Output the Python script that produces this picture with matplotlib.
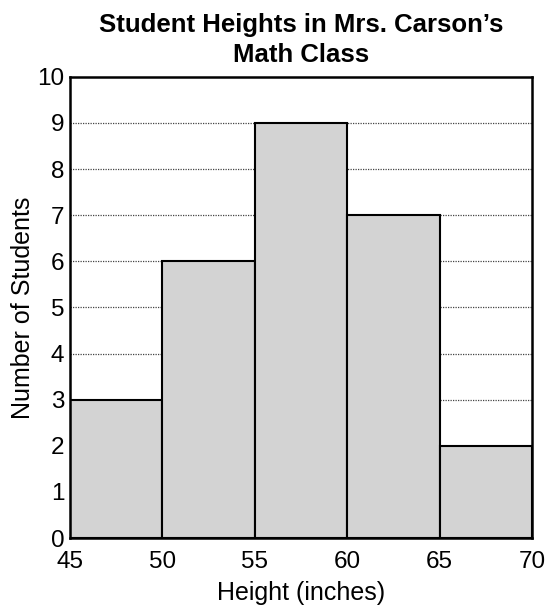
import matplotlib
matplotlib.use("Agg")
import matplotlib.pyplot as plt

bin_edges = [45, 50, 55, 60, 65, 70]
counts = [3, 6, 9, 7, 2]
x_ticks = [45, 50, 55, 60, 65, 70]
y_ticks = list(range(0, 11))
title = "Student Heights in Mrs. Carson\u2019s\nMath Class"
xlabel = "Height (inches)"
ylabel = "Number of Students"

plt.rcParams['font.family'] = ['Liberation Sans', 'DejaVu Sans']

fig = plt.figure(figsize=(5.48, 6.10), dpi=100)
ax = fig.add_axes([0.1277, 0.118, 0.8431, 0.756])

widths = [bin_edges[i + 1] - bin_edges[i] for i in range(len(counts))]
ax.bar(bin_edges[:-1], counts, width=widths, align='edge',
       color='#d3d3d3', edgecolor='black', linewidth=1.5, zorder=3)

for y in y_ticks[1:-1]:
    ax.axhline(y, color='#444444', linestyle=(0, (1, 1)), linewidth=0.9, zorder=1)

ax.set_xlim(45, 70)
ax.set_ylim(0, 10)
ax.set_xticks(x_ticks)
ax.set_yticks(y_ticks)
ax.tick_params(axis='y', length=0, labelsize=17.5, pad=4)
ax.tick_params(axis='x', length=0, labelsize=17.5, pad=9)
for s in ax.spines.values():
    s.set_linewidth(1.8)
    s.set_zorder(4)

ax.set_xlabel(xlabel, fontsize=18, labelpad=6)
ax.set_ylabel(ylabel, fontsize=18, labelpad=2)
ax.set_title(title, fontsize=18.5, fontweight='bold', pad=11, linespacing=1.32)

fig.savefig("out.png", dpi=100)
